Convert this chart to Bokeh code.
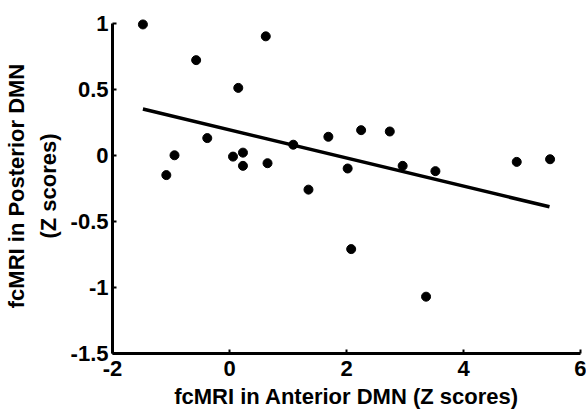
from bokeh.plotting import figure
from bokeh.models import Range1d, FixedTicker
from bokeh.embed import file_html
from bokeh.resources import INLINE

# Data
anterior_z = [-1.48, -0.57, 0.62, 0.15, -0.38, -0.94, -1.08, 0.06, 0.23, 0.23,
              0.65, 1.09, 1.69, 2.25, 2.74, 2.02, 2.96, 3.52, 4.91, 5.48,
              1.35, 2.08, 3.36]
posterior_z = [0.99, 0.72, 0.90, 0.51, 0.13, 0.00, -0.15, -0.01, 0.02, -0.08,
               -0.06, 0.08, 0.14, 0.19, 0.18, -0.10, -0.08, -0.12, -0.05, -0.03,
               -0.26, -0.71, -1.07]

fit_x = [-1.48, 5.47]
fit_y = [0.35, -0.39]

x_ticks = [-2, 0, 2, 4, 6]
x_tick_labels = ["-2", "0", "2", "4", "6"]
y_ticks = [-1.5, -1, -0.5, 0, 0.5, 1]
y_tick_labels = ["-1.5", "-1", "-0.5", "0", "0.5", "1"]

FONT = "Liberation Sans"

p = figure(width=586, height=411,
           x_range=Range1d(-2, 6), y_range=Range1d(-1.5, 1.035),
           output_backend="svg", toolbar_location=None,
           min_border_left=112, min_border_right=6,
           min_border_top=18, min_border_bottom=56)
p.outline_line_color = None
p.grid.visible = False
p.background_fill_color = "white"
p.border_fill_color = "white"

p.xaxis.ticker = FixedTicker(ticks=x_ticks)
p.xaxis.major_label_overrides = {t: l for t, l in zip(x_ticks, x_tick_labels)}
p.yaxis.ticker = FixedTicker(ticks=y_ticks)
p.yaxis.major_label_overrides = {t: l for t, l in zip(y_ticks, y_tick_labels)}
p.yaxis.bounds = (-1.5, 1)

p.xaxis.axis_label = "fcMRI in Anterior DMN (Z scores)"
p.yaxis.axis_label = "fcMRI in Posterior DMN\n(Z scores)"

for ax in (p.xaxis, p.yaxis):
    ax.axis_line_width = 3
    ax.axis_line_color = "black"
    ax.major_tick_in = 4
    ax.major_tick_out = 0
    ax.major_tick_line_width = 2
    ax.major_tick_line_color = "black"
    ax.minor_tick_line_color = None
    ax.major_label_text_font = FONT
    ax.major_label_text_font_style = "bold"
    ax.major_label_text_font_size = "22px"
    ax.major_label_text_color = "black"
    ax.axis_label_text_font = FONT
    ax.axis_label_text_font_style = "bold"
    ax.axis_label_text_font_size = "22px"
    ax.axis_label_text_color = "black"

p.xaxis.major_label_standoff = 7
p.xaxis.axis_label_standoff = 5
p.yaxis.major_label_standoff = 4
p.yaxis.axis_label_standoff = 7
p.yaxis.axis_label_text_line_height = 1.25

p.line(fit_x, fit_y, line_width=3.5, line_color="black")
p.scatter(anterior_z, posterior_z, size=9, fill_color="black", line_color="black")

open("out.html", "w").write(file_html(p, INLINE))
